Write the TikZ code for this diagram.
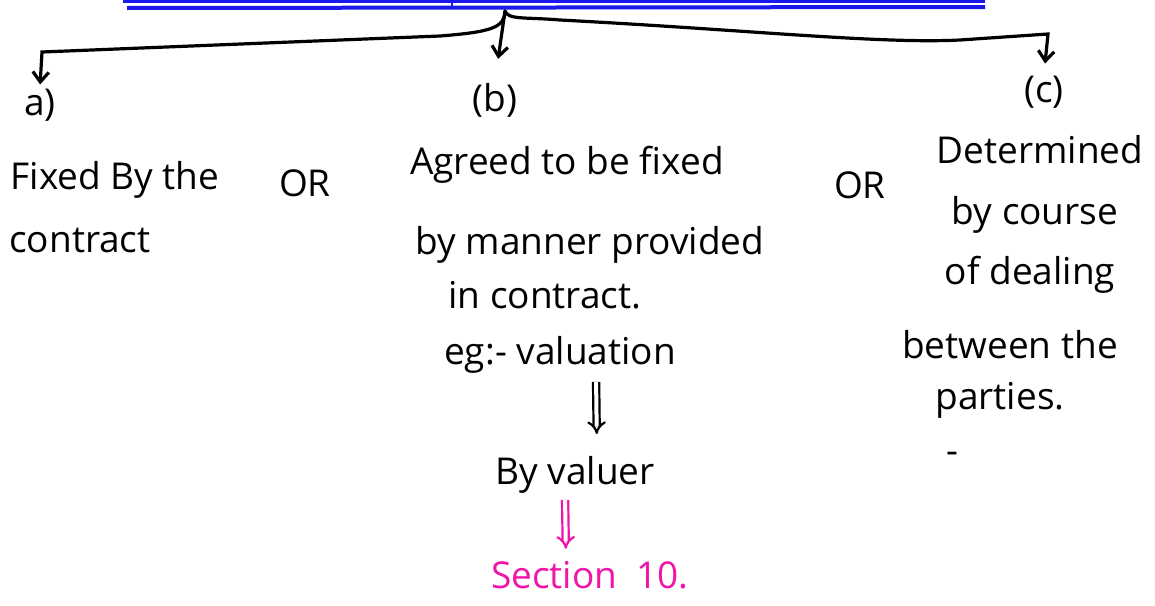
\documentclass[tikz,border=0pt]{standalone}
\usepackage{fontspec}
\setmainfont{Open Sans}
\usetikzlibrary{arrows.meta}
\definecolor{inkpink}{RGB}{240,20,170}
\definecolor{inkblue}{RGB}{25,25,235}
\tikzset{
  hand/.style={font=\fontsize{18.5}{22}\selectfont, inner sep=1pt},
  ink/.style={line width=1.6pt, line cap=round},
  tip/.style={-{Straight Barb[length=5pt,width=8pt]}},
  dbl/.style={double, double distance=2pt, line width=1.1pt, -{Implies}},
}
\begin{document}
\begin{tikzpicture}[x=0.5pt,y=-0.5pt]
        \useasboundingbox (0,0) rectangle (1155,605);
        % \draw[help lines, gray!50, very thin] (0,0) grid[step=50] (1155,605);

        % heading underline, cut off at the top
        \draw[inkblue, line width=1.5pt] (123,1) -- (985,1);
        \draw[inkblue, line width=1.2pt] (452,0) -- (452,7);
        \draw[inkblue, line width=2pt] (127,8) -- (985,7);
        \coordinate (top) at (505,11);

        % three branches
        \node[hand] (a) at (40,105) {a)};
        \node[hand] (b) at (495,100) {(b)};
        \node[hand] (c) at (1044,92) {(c)};

        \draw[ink, tip, shorten >=1pt] (top) .. controls (505,28) and (490,32) .. (440,36) -- (42,52) -- (a.north);
        \draw[ink, tip, shorten >=11pt] (top) -- (b.north);
        \draw[ink, tip, shorten >=5pt] (top) .. controls (508,20) and (525,17) .. (560,20)
              .. controls (750,30) and (880,44) .. (960,40) -- (1048,34) -- (c.north);

        % (a)
        \node[hand] (a1) at (115,180) {Fixed By the};
        \node[hand] (a2) at (80,240) {contract};
        \node[hand] (or1) at (305,183) {OR};

        % (b)
        \node[hand] (b1) at (567,165) {Agreed to be fixed};
        \node[hand] (b2) at (590,245) {by manner provided};
        \node[hand] (b3) at (545,295) {in contract.};
        \node[hand] (eg) at (560,355) {eg:- valuation};
        \node[hand] (valuer) at (575,475) {By valuer};
        \node[hand, inkpink] (sec) at (590,575) {Section\ \ 10.};

        \draw[dbl, draw=black, shorten <=3pt, shorten >=10pt] ([xshift=18pt]eg.south) -- ([xshift=11pt]valuer.north);
        \draw[dbl, draw=inkpink, shorten <=2pt, shorten >=5pt] ([xshift=-5pt]valuer.south) -- ([xshift=-12pt]sec.north);

        \node[hand] (or2) at (860,185) {OR};

        % (c)
        \node[hand] (c1) at (1040,150) {Determined};
        \node[hand] (c2) at (1035,215) {by course};
        \node[hand] (c3) at (1030,275) {of dealing};
        \node[hand] (c4) at (1010,345) {between the};
        \node[hand] (c5) at (1000,400) {parties.};
        \node[hand] (dash) at (952,458) {-};
      \end{tikzpicture}
\end{document}
